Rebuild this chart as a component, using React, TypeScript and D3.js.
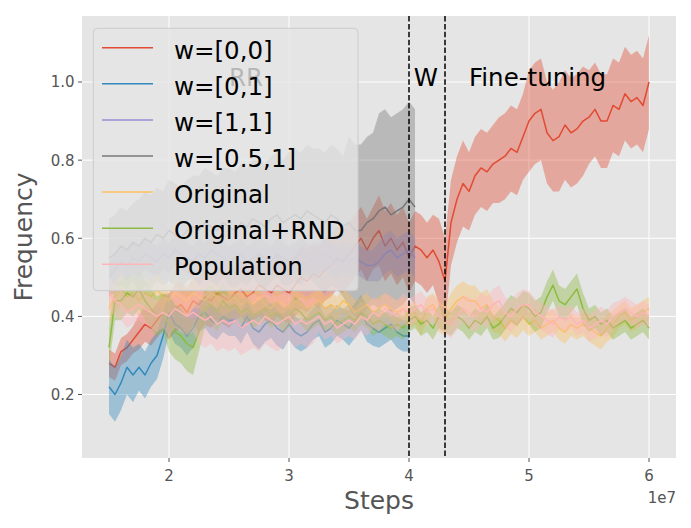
import React from "react";
import * as d3 from "d3";

// x grid: samples every 5e5 steps starting at 1.5e7
const X_START = 1.5e7;
const X_INTERVAL = 5e5;

const labels = ["w=[0,0]", "w=[0,1]", "w=[1,1]", "w=[0.5,1]", "Original", "Original+RND", "Population"];
const colors = ["#E24A33", "#348ABD", "#988ED5", "#777777", "#FBC15E", "#8EBA42", "#FFB5B8"];

const w00 = [
  0.28, 0.27, 0.31, 0.32, 0.34, 0.36, 0.38, 0.37, 0.39, 0.41,
  0.40, 0.42, 0.43, 0.41, 0.44, 0.43, 0.45, 0.44, 0.46, 0.45,
  0.44, 0.46, 0.47, 0.45, 0.46, 0.48, 0.47, 0.46, 0.48, 0.47,
  0.46, 0.48, 0.50, 0.49, 0.51, 0.50, 0.52, 0.53, 0.55, 0.54,
  0.56, 0.58, 0.60, 0.57, 0.60, 0.62, 0.58, 0.60, 0.57, 0.59,
  0.55, 0.58, 0.57, 0.55, 0.57, 0.54, 0.49, 0.64, 0.70, 0.74,
  0.72, 0.76, 0.78, 0.77, 0.79, 0.80, 0.81, 0.83, 0.82, 0.86,
  0.90, 0.92, 0.93, 0.87, 0.85, 0.86, 0.89, 0.87, 0.88, 0.90,
  0.91, 0.93, 0.90, 0.90, 0.94, 0.93, 0.97, 0.95, 0.96, 0.94,
  1.00,
];
const w01 = [
  0.22, 0.20, 0.23, 0.27, 0.25, 0.27, 0.25, 0.28, 0.30, 0.35,
  0.41, 0.38, 0.37, 0.35, 0.37, 0.40, 0.41, 0.39, 0.38, 0.40,
  0.39, 0.39, 0.37, 0.40, 0.37, 0.36, 0.38, 0.39, 0.37, 0.36,
  0.38, 0.36, 0.35, 0.36, 0.38, 0.39, 0.36, 0.37, 0.39, 0.38,
  0.37, 0.39, 0.41, 0.38, 0.37, 0.36, 0.37, 0.38, 0.36, 0.35,
  0.35,
];
const w11 = [
  0.50, 0.52, 0.54, 0.53, 0.55, 0.54, 0.56, 0.55, 0.54, 0.56,
  0.55, 0.57, 0.56, 0.55, 0.54, 0.56, 0.55, 0.57, 0.56, 0.55,
  0.54, 0.55, 0.56, 0.54, 0.55, 0.56, 0.55, 0.54, 0.56, 0.55,
  0.54, 0.55, 0.56, 0.55, 0.54, 0.55, 0.56, 0.55, 0.54, 0.55,
  0.54, 0.55, 0.54, 0.53, 0.53, 0.54, 0.56, 0.57, 0.55, 0.56,
  0.57, 0.55,
];
const w051 = [
  0.55, 0.56, 0.58, 0.57, 0.59, 0.58, 0.60, 0.59, 0.61, 0.60,
  0.62, 0.61, 0.60, 0.62, 0.63, 0.62, 0.64, 0.63, 0.62, 0.64,
  0.63, 0.62, 0.64, 0.63, 0.65, 0.64, 0.63, 0.65, 0.66, 0.64,
  0.65, 0.66, 0.65, 0.67, 0.66, 0.65, 0.64, 0.66, 0.65, 0.63,
  0.64, 0.62, 0.62, 0.64, 0.65, 0.67, 0.68, 0.66, 0.67, 0.68,
  0.70, 0.68,
];
const original = [
  0.42, 0.45, 0.47, 0.45, 0.46, 0.44, 0.46, 0.45, 0.47, 0.45,
  0.44, 0.46, 0.45, 0.44, 0.46, 0.45, 0.44, 0.46, 0.45, 0.43,
  0.44, 0.45, 0.43, 0.44, 0.43, 0.45, 0.43, 0.42, 0.44, 0.43,
  0.42, 0.44, 0.43, 0.42, 0.43, 0.44, 0.42, 0.43, 0.42, 0.44,
  0.43, 0.41, 0.42, 0.43, 0.41, 0.42, 0.43, 0.42, 0.41, 0.42,
  0.40, 0.41, 0.38, 0.42, 0.43, 0.40, 0.39, 0.42, 0.44, 0.45,
  0.44, 0.44, 0.42, 0.43, 0.40, 0.39, 0.37, 0.39, 0.38, 0.40,
  0.38, 0.39, 0.37, 0.38, 0.39, 0.37, 0.36, 0.38, 0.37, 0.38,
  0.37, 0.36, 0.35, 0.37, 0.38, 0.40, 0.41, 0.39, 0.40, 0.41,
  0.42,
];
const originalRnd = [
  0.32, 0.44, 0.44, 0.46, 0.45, 0.47, 0.44, 0.42, 0.40, 0.41,
  0.38, 0.36, 0.35, 0.33, 0.32, 0.36, 0.42, 0.43, 0.41, 0.44,
  0.42, 0.43, 0.41, 0.42, 0.40, 0.41, 0.42, 0.40, 0.41, 0.39,
  0.40, 0.42, 0.41, 0.39, 0.40, 0.41, 0.39, 0.40, 0.38, 0.39,
  0.40, 0.39, 0.41, 0.40, 0.38, 0.39, 0.38, 0.37, 0.38, 0.37,
  0.39, 0.40, 0.38, 0.39, 0.37, 0.40, 0.39, 0.38, 0.40, 0.39,
  0.37, 0.39, 0.38, 0.40, 0.37, 0.38, 0.40, 0.42, 0.41, 0.43,
  0.42, 0.40, 0.41, 0.45, 0.48, 0.44, 0.43, 0.45, 0.47, 0.42,
  0.39, 0.40, 0.38, 0.39, 0.37, 0.38, 0.39, 0.37, 0.38, 0.39,
  0.37,
];
const population = [
  0.46, 0.44, 0.43, 0.41, 0.42, 0.43, 0.42, 0.41, 0.40, 0.41,
  0.40, 0.42, 0.41, 0.40, 0.41, 0.40, 0.39, 0.40, 0.38, 0.39,
  0.38, 0.39, 0.37, 0.38, 0.39, 0.38, 0.40, 0.39, 0.38, 0.39,
  0.40, 0.38, 0.39, 0.38, 0.39, 0.40, 0.38, 0.39, 0.37, 0.38,
  0.39, 0.38, 0.40, 0.39, 0.41, 0.40, 0.42, 0.41, 0.40, 0.42,
  0.41, 0.42, 0.43, 0.41, 0.42, 0.40, 0.39, 0.38, 0.40, 0.42,
  0.41, 0.40, 0.42, 0.41, 0.43, 0.44, 0.41, 0.40, 0.42, 0.43,
  0.43, 0.41, 0.40, 0.39, 0.38, 0.40, 0.39, 0.40, 0.38, 0.39,
  0.37, 0.38, 0.39, 0.38, 0.40, 0.41, 0.42, 0.41, 0.40, 0.41,
  0.40,
];

// half-width of the shaded band, one value per 2.5e6-step segment
const w00Spread = [0.035, 0.045, 0.06, 0.07, 0.07, 0.08, 0.08, 0.08, 0.08, 0.09, 0.09, 0.11, 0.10, 0.11, 0.13, 0.14, 0.12, 0.12, 0.12];
const w01Spread = [0.07, 0.06, 0.05, 0.04, 0.04, 0.045, 0.04, 0.04, 0.045, 0.04, 0.04];
const w11Spread = [0.04, 0.04, 0.04, 0.04, 0.04, 0.04, 0.04, 0.04, 0.04, 0.05, 0.05];
const w051Spread = [0.1, 0.12, 0.13, 0.14, 0.15, 0.16, 0.17, 0.18, 0.22, 0.25, 0.25];
const originalSpread = [0.04, 0.04, 0.04, 0.03, 0.03, 0.03, 0.03, 0.03, 0.03, 0.03, 0.03, 0.04, 0.04, 0.035, 0.03, 0.03, 0.035, 0.03, 0.03];
const originalRndSpread = [0.05, 0.05, 0.07, 0.05, 0.03, 0.03, 0.03, 0.03, 0.03, 0.03, 0.03, 0.03, 0.03, 0.035, 0.04, 0.04, 0.03, 0.03, 0.03];
const populationSpread = [0.04, 0.04, 0.05, 0.07, 0.07, 0.07, 0.06, 0.04, 0.04, 0.04, 0.035, 0.035, 0.04, 0.04, 0.035, 0.03, 0.035, 0.03, 0.03];

const xTicks = [2e7, 3e7, 4e7, 5e7, 6e7];
const xTickLabels = ["2", "3", "4", "5", "6"];
const yTicks = [0.2, 0.4, 0.6, 0.8, 1.0];
const phaseLines = [4e7, 4.3e7];
const phaseLabels = [
  { text: "RR", x: 2.5e7 },
  { text: "W", x: 4.04e7 },
  { text: "Fine-tuning", x: 4.5e7 },
];

const W = 691, H = 528;
const L = 82, R = 676, T = 16, B = 458;
const FONT = "'DejaVu Sans', sans-serif";

export default function App() {
  const x = d3.scaleLinear().domain([1.275e7, 6.225e7]).range([L, R]);
  const y = d3.scaleLinear().domain([0.0375, 1.169]).range([B, T]);

  const series = [
    { vals: w00, spread: w00Spread },
    { vals: w01, spread: w01Spread },
    { vals: w11, spread: w11Spread },
    { vals: w051, spread: w051Spread },
    { vals: original, spread: originalSpread },
    { vals: originalRnd, spread: originalRndSpread },
    { vals: population, spread: populationSpread },
  ];

  const line = d3
    .line<number>()
    .x((_, i) => x(X_START + i * X_INTERVAL))
    .y((d) => y(d));

  const bands = series.map((s) =>
    d3
      .area<number>()
      .x((_, i) => x(X_START + i * X_INTERVAL))
      .y0((d, i) => y(d - s.spread[Math.floor(i / 5)]))
      .y1((d, i) => y(d + s.spread[Math.floor(i / 5)]))(s.vals) as string
  );

  const legendRowY = (i: number) => 58.5 + i * 36.1;

  return (
    <svg
      width={W}
      height={H}
      style={{ position: "absolute", left: 0, top: 0, background: "#fff" }}
      fontFamily={FONT}
    >
      <defs>
        <clipPath id="plotclip">
          <rect x={L} y={T} width={R - L} height={B - T} />
        </clipPath>
      </defs>
      <rect x={0} y={0} width={W} height={H} fill="#fff" />
      <rect x={L} y={T} width={R - L} height={B - T} fill="#E5E5E5" />
      {/* grid */}
      {xTicks.map((t) => (
        <line key={"gx" + t} x1={x(t)} x2={x(t)} y1={T} y2={B} stroke="#fff" strokeWidth={1} />
      ))}
      {yTicks.map((t) => (
        <line key={"gy" + t} x1={L} x2={R} y1={y(t)} y2={y(t)} stroke="#fff" strokeWidth={1} />
      ))}
      <g clipPath="url(#plotclip)">
        {series.map((s, k) => (
          <g key={"s" + k}>
            <path d={bands[k]} fill={colors[k]} fillOpacity={0.4} stroke="none" />
            <path d={line(s.vals) as string} fill="none" stroke={colors[k]} strokeWidth={1.5} strokeLinejoin="round" />
          </g>
        ))}
        {phaseLines.map((p) => (
          <line key={"pl" + p} x1={x(p)} x2={x(p)} y1={T} y2={B} stroke="#000" strokeWidth={1.5} strokeDasharray="5.5,2.4" />
        ))}
        {phaseLabels.map((p) => (
          <text key={p.text} x={x(p.x)} y={y(0.99)} fontSize={24.5} fill="#000">
            {p.text}
          </text>
        ))}
      </g>
      {/* ticks */}
      {xTicks.map((t, i) => (
        <g key={"xt" + t}>
          <line x1={x(t)} x2={x(t)} y1={B} y2={B + 4} stroke="#555" strokeWidth={1} />
          <text x={x(t)} y={481} fontSize={15} fill="#555" textAnchor="middle">
            {xTickLabels[i]}
          </text>
        </g>
      ))}
      {yTicks.map((t) => (
        <g key={"yt" + t}>
          <line x1={L - 4} x2={L} y1={y(t)} y2={y(t)} stroke="#555" strokeWidth={1} />
          <text x={L - 7.5} y={y(t)} dy="0.36em" fontSize={15} fill="#555" textAnchor="end">
            {t.toFixed(1)}
          </text>
        </g>
      ))}
      <text x={R} y={503} fontSize={15} fill="#555" textAnchor="end">
        1e7
      </text>
      <text x={(L + R) / 2} y={509} fontSize={25} fill="#555" textAnchor="middle">
        Steps
      </text>
      <text
        transform={`translate(31.6, ${(T + B) / 2}) rotate(-90)`}
        fontSize={25}
        fill="#555"
        textAnchor="middle"
      >
        Frequency
      </text>
      {/* legend */}
      <rect x={93.3} y={28.3} width={264.7} height={262.4} rx={4} fill="#E5E5E5" fillOpacity={0.8} stroke="#CCCCCC" strokeWidth={1} />
      {labels.map((lab, i) => (
        <g key={"lg" + i}>
          <line x1={102} x2={153} y1={legendRowY(i) - 10.8} y2={legendRowY(i) - 10.8} stroke={colors[i]} strokeWidth={1.5} />
          <text x={174} y={legendRowY(i)} fontSize={24.5} fill="#000">
            {lab}
          </text>
        </g>
      ))}
    </svg>
  );
}
